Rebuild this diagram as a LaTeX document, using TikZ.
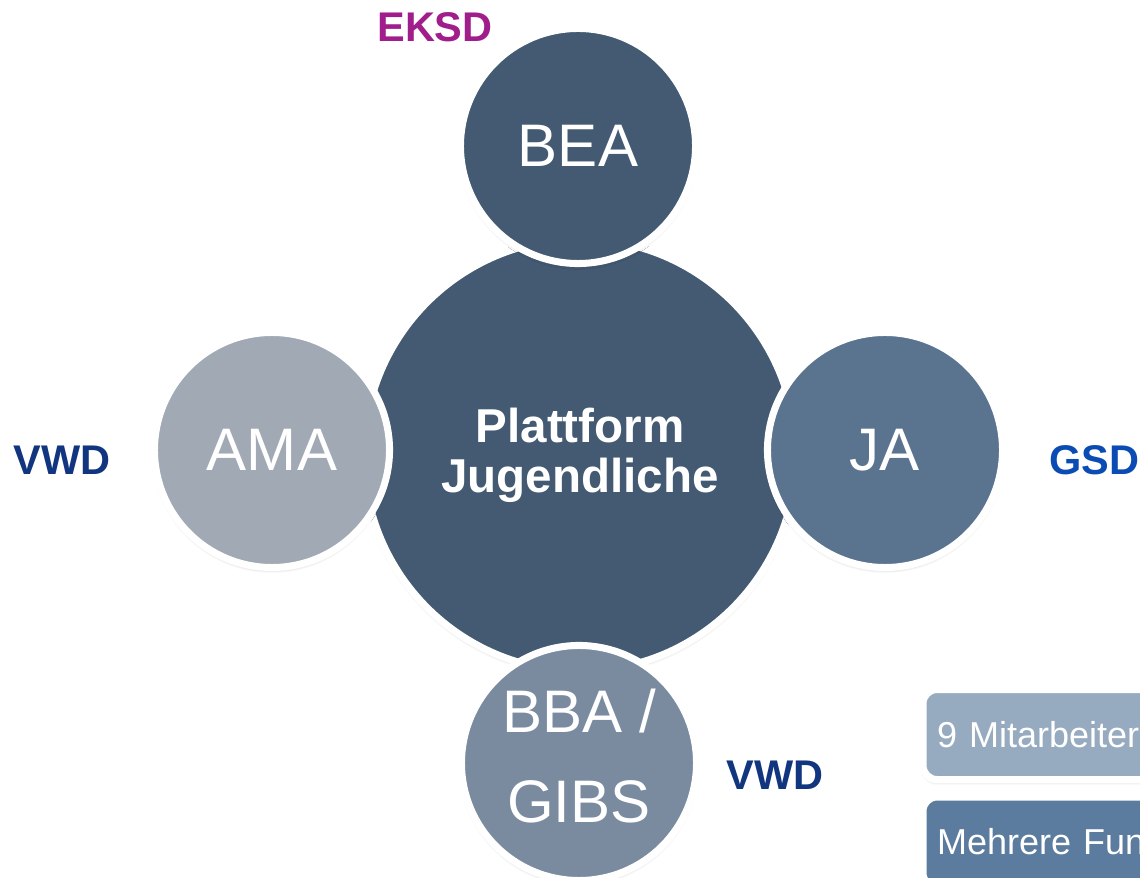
\documentclass[tikz,border=0pt]{standalone}
\usepackage{fontspec}
\setmainfont{Liberation Sans}
\usetikzlibrary{shadows.blur}

\definecolor{hubblue}{HTML}{435A72}
\definecolor{amagray}{HTML}{A0A9B4}
\definecolor{jablue}{HTML}{5A7490}
\definecolor{bbablue}{HTML}{7A8BA0}
\definecolor{boxlight}{HTML}{97ABC0}
\definecolor{boxdark}{HTML}{5B7C9E}
\definecolor{eksdpurple}{HTML}{A01E8C}
\definecolor{vwdnavy}{HTML}{12357F}
\definecolor{gsdblue}{HTML}{0A4CB4}

\tikzset{
  ring/.style={circle, draw=white, line width=5pt, text=white, align=center,
    blur shadow={shadow blur steps=6, shadow xshift=0pt, shadow yshift=-2pt, shadow opacity=25}},
  sat/.style={ring, minimum size=5.875cm, font=\fontsize{42.7}{64}\selectfont},
  tag/.style={font=\bfseries\fontsize{29.5}{32}\selectfont, inner sep=0pt},
  panel/.style={draw=white, line width=5pt, rounded corners=0.35cm, anchor=north west,
    minimum width=9cm, minimum height=2.25cm, text width=8.3cm, align=left, inner xsep=0.3cm,
    text=white, font=\fontsize{25.6}{28}\selectfont,
    blur shadow={shadow blur steps=5, shadow xshift=0pt, shadow yshift=-2pt, shadow opacity=20}}
}

\begin{document}
\begin{tikzpicture}[x=0.025cm,y=-0.025cm]

    \useasboundingbox (0,0) rectangle (1140,878);
    \clip (0,0) rectangle (1140,878);

    \node[ring, fill=hubblue, minimum size=10.8cm, font=\bfseries\fontsize{33.8}{35.6}\selectfont] (hub) at (580,455) {Plattform\\Jugendliche};

    \node[sat, fill=hubblue] (bea) at (578,146) {BEA};
    \node[sat, fill=amagray] (ama) at (272,450) {AMA};
    \node[sat, fill=jablue] (ja) at (885,450) {JA};
    \node[sat, fill=bbablue, text depth=11pt] (bba) at (579,763) {BBA /\\GIBS};

    \node[tag, text=eksdpurple] (eksd) at (435,27) {EKSD};
    \node[tag, text=vwdnavy] (vwdl) at (62,460) {VWD};
    \node[tag, text=gsdblue] (gsd) at (1094,460) {GSD};
    \node[tag, text=vwdnavy] (vwdb) at (775,775) {VWD};

    \node[panel, fill=boxlight] (staff) at (919.5,686) {9 Mitarbeiter};
    \node[panel, fill=boxdark] (roles) at (919.5,793.5) {Mehrere Fun};

\end{tikzpicture}
\end{document}
